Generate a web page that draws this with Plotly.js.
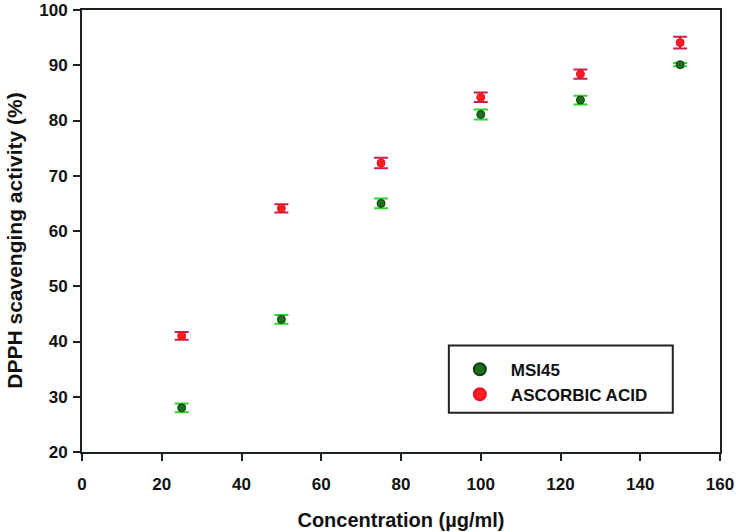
<!DOCTYPE html>
<html>
<head>
<meta charset="utf-8">
<script src="https://cdn.plot.ly/plotly-3.0.1.min.js"></script>
<style>html,body{margin:0;padding:0;background:#fff;}#chart{width:736px;height:532px;}</style>
</head>
<body>
<div id="chart"></div>
<script>
var concentrations = [25, 50, 75, 100, 125, 150];
var msi45Values = [28.0, 44.0, 65.0, 81.1, 83.7, 90.1];
var msi45Errors = [0.8, 0.8, 0.9, 0.9, 0.8, 0.3];
var ascorbicValues = [41.0, 64.1, 72.3, 84.2, 88.4, 94.1];
var ascorbicErrors = [0.7, 0.75, 0.95, 0.85, 0.85, 1.05];
var xTicks = [0, 20, 40, 60, 80, 100, 120, 140, 160];
var yTicks = [20, 30, 40, 50, 60, 70, 80, 90, 100];
var xTitle = "Concentration (µg/ml)";
var yTitle = "DPPH scavenging activity (%)";

var font = "Liberation Sans, Arial, sans-serif";

var traces = [
  {
    x: concentrations, y: msi45Values, name: "MSI45",
    type: "scatter", mode: "markers",
    marker: {color: "#1c6e1c", size: 8, line: {color: "#0f400f", width: 1}},
    error_y: {type: "data", array: msi45Errors, visible: true, color: "#2ed62e", thickness: 2, width: 7}
  },
  {
    x: concentrations, y: ascorbicValues, name: "ASCORBIC ACID",
    type: "scatter", mode: "markers",
    marker: {color: "#ff1e1e", size: 8, line: {color: "#e8102a", width: 1}},
    error_y: {type: "data", array: ascorbicErrors, visible: true, color: "#c8204a", thickness: 2, width: 7}
  }
];

var layout = {
  width: 736, height: 532,
  margin: {l: 82, r: 16, t: 10, b: 80},
  paper_bgcolor: "#fff", plot_bgcolor: "#fff",
  font: {family: font, size: 16, color: "#111"},
  showlegend: true,
  legend: {
    x: 0.575, y: 0.227, xanchor: "left", yanchor: "top",
    borderwidth: 0, bgcolor: "rgba(0,0,0,0)",
    font: {family: font, size: 17, color: "#111", weight: "bold"},
    itemwidth: 52, tracegroupgap: 0,
    itemsizing: "constant"
  },
  shapes: [
    {type: "rect", xref: "paper", yref: "paper", x0: 0.575, x1: 0.926, y0: 0.089, y1: 0.241,
     line: {color: "#222", width: 2}, fillcolor: "rgba(0,0,0,0)", layer: "below"}
  ],
  annotations: [
    {text: yTitle, xref: "paper", yref: "paper", x: 0, y: 0.478, xanchor: "center", yanchor: "middle",
     xshift: -67, textangle: -90, showarrow: false,
     font: {family: font, size: 21, color: "#111", weight: "bold"}}
  ],
  xaxis: {
    range: [0, 160], tickvals: xTicks, ticktext: xTicks.map(String),
    showgrid: false, zeroline: false,
    showline: true, linecolor: "#1a2226", linewidth: 2, mirror: true,
    ticks: "outside", ticklen: 7, tickwidth: 2, tickcolor: "#1a2226",
    ticklabelstandoff: 9,
    tickfont: {family: font, size: 17, color: "#111", weight: "bold"},
    title: {text: xTitle, font: {family: font, size: 20, color: "#111", weight: "bold"}, standoff: 20}
  },
  yaxis: {
    range: [20, 100], tickvals: yTicks, ticktext: yTicks.map(String),
    showgrid: false, zeroline: false,
    showline: true, linecolor: "#1a2226", linewidth: 2, mirror: true,
    ticks: "outside", ticklen: 7, tickwidth: 2, tickcolor: "#1a2226",
    ticklabelstandoff: 2,
    tickfont: {family: font, size: 17, color: "#111", weight: "bold"}
  }
};

Plotly.newPlot("chart", traces, layout, {staticPlot: true, displayModeBar: false});
</script>
</body>
</html>
